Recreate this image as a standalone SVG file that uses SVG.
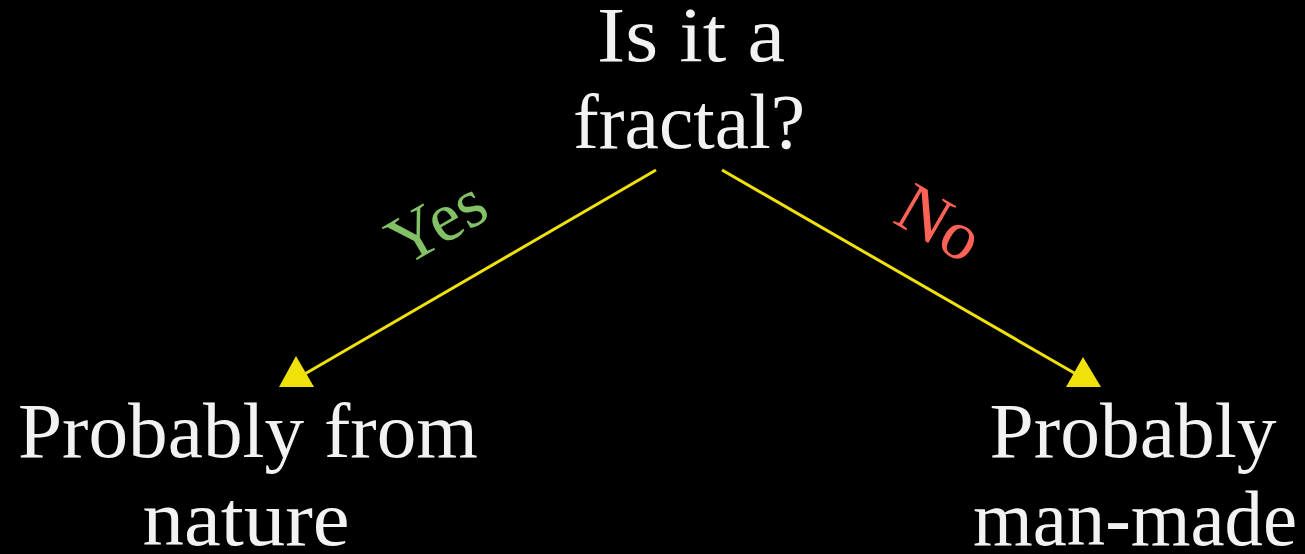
<svg xmlns="http://www.w3.org/2000/svg" width="1305" height="554" viewBox="0 0 1305 554">
<style>
.t{font-family:"Liberation Serif","Times New Roman",serif;fill:#f2f2f2;font-size:78px}
.lbl{font-family:"Liberation Serif","Times New Roman",serif;font-size:70px}
.conn{stroke:#f0e10a;stroke-width:3;fill:none}
.head{fill:#f0e10a}
</style>
<rect width="1305" height="554" fill="#000"/>
<g id="question">
<text class="t" x="691" y="61" text-anchor="middle" textLength="188" lengthAdjust="spacingAndGlyphs">Is it a</text>
<text class="t" x="689" y="148" text-anchor="middle" textLength="232" lengthAdjust="spacingAndGlyphs">fractal?</text>
</g>
<g id="nature">
<text class="t" x="248" y="457" text-anchor="middle" textLength="460" lengthAdjust="spacingAndGlyphs">Probably from</text>
<text class="t" x="246" y="545" text-anchor="middle" textLength="207" lengthAdjust="spacingAndGlyphs">nature</text>
</g>
<g id="manmade">
<text class="t" x="1133" y="457" text-anchor="middle" textLength="287" lengthAdjust="spacingAndGlyphs">Probably</text>
<text class="t" x="1135" y="545" text-anchor="middle" textLength="324" lengthAdjust="spacingAndGlyphs">man-made</text>
</g>
<g id="connectors">
<line class="conn" x1="656" y1="170" x2="303" y2="375"/>
<polygon class="head" points="296,356 279,387 314,387"/>
<line class="conn" x1="722" y1="170" x2="1076" y2="374"/>
<polygon class="head" points="1083,357 1066,387 1101,387"/>
<text class="lbl" fill="#83c167" transform="translate(448,242) rotate(-30)" text-anchor="middle">Yes</text>
<text class="lbl" fill="#fc6255" transform="translate(928,243) rotate(30)" text-anchor="middle">No</text>
</g>
</svg>
